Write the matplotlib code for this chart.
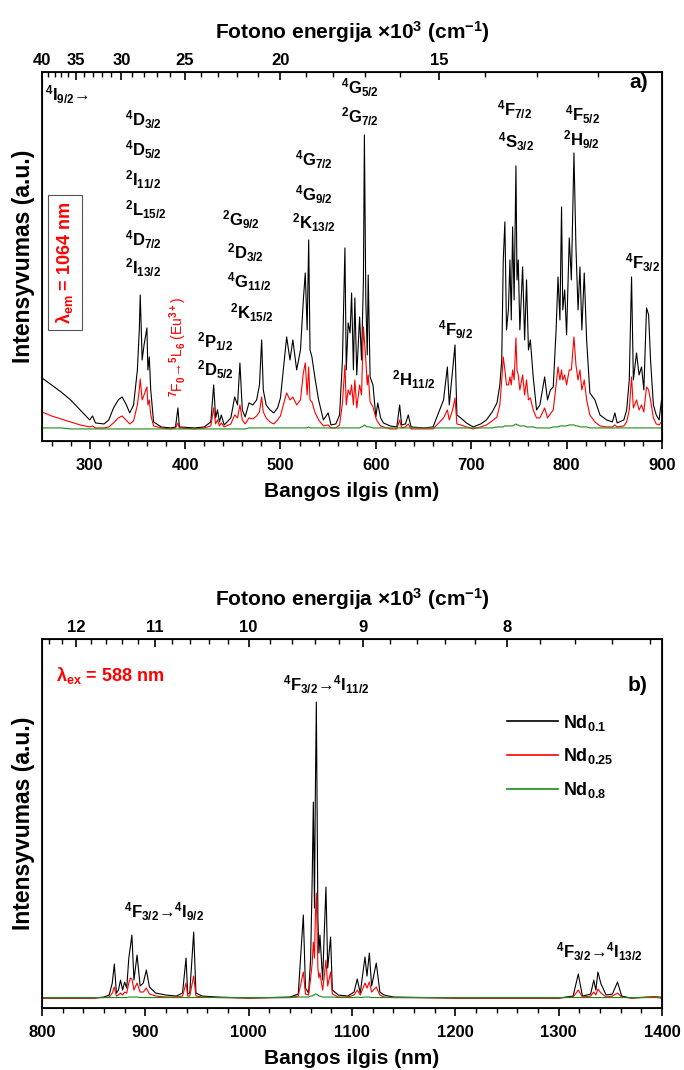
import matplotlib
matplotlib.use('Agg')
import matplotlib.pyplot as plt

plt.rcParams['font.family'] = ['Liberation Sans', 'DejaVu Sans']
plt.rcParams['font.weight'] = 'bold'
plt.rcParams['axes.labelweight'] = 'bold'
plt.rcParams['mathtext.fontset'] = 'custom'
plt.rcParams['mathtext.rm'] = 'Liberation Sans:bold'
plt.rcParams['mathtext.it'] = 'Liberation Sans:italic:bold'
plt.rcParams['mathtext.bf'] = 'Liberation Sans:bold'

# excitation spectra (lambda_em = 1064 nm)
exc_wl = [250, 260, 270, 280, 290, 300, 303, 306, 315, 320, 325, 330, 334, 338, 342, 346,
          350, 352, 353, 355, 357, 360, 361, 362.5, 364, 367, 375, 385, 390, 392.5, 394,
          410, 420, 427, 430, 432, 434, 436, 438, 441, 448, 452, 455, 457.5, 460, 463,
          467, 471, 475, 478, 480.3, 482, 485, 489, 493, 497, 500, 503, 506.5, 510, 513,
          517, 521, 524, 526, 528, 529.6, 531, 533, 536, 540, 545, 550, 553, 558, 562, 565,
          567.6, 569, 571, 573, 574.6, 576.5, 578, 580, 583, 585, 587, 588, 589.5, 591,
          592, 594, 597, 600, 602, 605, 608, 615, 622, 625, 627, 631, 634, 637, 650, 660,
          667, 671, 675, 677, 680.5, 683, 685, 689, 695, 702, 710, 716, 722, 727, 730,
          732, 733.6, 735.3, 737, 739, 740.6, 742, 743.4, 745, 746.9, 748, 749.3, 751,
          753.9, 756, 758, 760, 762, 765, 768.5, 772, 777, 780, 783, 786, 789, 791, 793,
          794.7, 796, 798, 800, 802.8, 805, 807.7, 809.8, 812, 814, 816, 818.5, 821,
          824.4, 829.7, 835, 842, 848, 850.6, 853, 860, 863, 865.7, 868.1, 870, 873.3,
          876, 878.6, 881, 883.8, 886, 888, 891, 894, 897, 899.5, 900]
exc_nd01 = [52, 45, 38, 30, 20, 10, 14, 7, 6, 10, 22, 30, 33, 26, 17, 25,
            60, 100, 135, 70, 85, 102, 60, 73, 40, 8, 3, 2, 3, 22, 3,
            2, 3, 8, 45, 12, 20, 8, 15, 5, 12, 33, 25, 67, 20, 13,
            27, 25, 30, 45, 90, 40, 25, 20, 17, 22, 32, 60, 93, 70, 90,
            60, 80, 130, 157, 100, 190, 80, 73, 53, 30, 10, 17, 5, 6, 15, 70,
            182, 60, 107, 97, 137, 60, 132, 55, 113, 70, 150, 295, 130, 75,
            155, 53, 45, 13, 27, 12, 7, 4, 3, 25, 5, 6, 15, 3, 2, 3,
            20, 30, 63, 25, 60, 85, 15, 12, 7, 3, 6, 10, 18, 27, 45,
            70, 170, 208, 100, 120, 170, 110, 203, 130, 264, 150, 170, 100,
            163, 90, 150, 80, 90, 53, 20, 25, 53, 30, 40, 43, 100, 153, 110,
            223, 120, 140, 95, 192, 150, 277, 183, 120, 163, 100, 157, 90,
            37, 30, 15, 10, 8, 17, 7, 10, 20, 50, 153, 50, 77,
            55, 63, 40, 122, 115, 70, 25, 15, 10, 30, 30]
exc_nd025 = [18, 14, 11, 8, 5, 3, 4, 2, 2, 3, 7, 12, 14, 10, 6, 9,
             25, 40, 51, 30, 35, 43, 25, 30, 15, 4, 2, 1, 2, 7, 2,
             1, 2, 4, 22, 6, 10, 4, 7, 3, 6, 15, 12, 25, 10, 6,
             12, 11, 14, 18, 33, 18, 12, 8, 6, 10, 14, 25, 37, 30, 33,
             25, 30, 57, 67, 35, 63, 30, 28, 18, 10, 4, 5, 2, 2, 5, 27,
             65, 25, 40, 35, 45, 25, 50, 22, 45, 35, 103, 90, 70, 45,
             55, 28, 23, 12, 8, 4, 3, 1, 1, 10, 2, 3, 6, 1, 1, 1,
             8, 12, 20, 10, 20, 32, 6, 5, 3, 1, 3, 5, 9, 13, 25,
             50, 73, 60, 45, 45, 53, 45, 60, 50, 92, 60, 55, 40,
             55, 35, 50, 30, 32, 20, 12, 12, 22, 12, 16, 20, 45, 63, 50,
             60, 50, 55, 45, 60, 60, 93, 65, 50, 60, 40, 50, 30,
             15, 8, 4, 3, 3, 5, 3, 4, 8, 20, 53, 22, 30,
             20, 25, 18, 43, 40, 30, 12, 6, 5, 8, 8]
exc_nd08 = [2, 2, 2, 1, 1, 1, 1, 1, 1, 1, 1, 1, 1, 1, 1, 1,
            1, 1, 1, 1, 1, 1, 1, 1, 1, 1, 1, 1, 1, 1, 1,
            1, 1, 1, 1, 1, 1, 1, 1, 1, 1, 1, 1, 1, 1, 1,
            2, 2, 2, 2, 2, 2, 2, 2, 2, 2, 2, 2, 2, 2, 2,
            2, 2, 2, 2, 2, 3, 2, 2, 2, 2, 2, 2, 2, 2, 2, 2,
            2, 2, 2, 2, 2, 2, 2, 2, 2, 3, 4, 5, 4, 3,
            3, 3, 2, 2, 2, 2, 2, 2, 2, 2, 2, 2, 2, 2, 2, 2,
            2, 2, 2, 2, 2, 2, 2, 2, 2, 2, 2, 2, 2, 3, 3,
            3, 3, 4, 4, 4, 4, 4, 4, 5, 6, 5, 5, 4,
            4, 4, 3, 3, 3, 3, 2, 2, 2, 2, 2, 3, 3, 3, 4,
            4, 4, 4, 4, 5, 5, 5, 4, 4, 3, 3, 3, 3,
            2, 2, 2, 2, 2, 2, 2, 2, 2, 2, 2, 2, 2,
            2, 2, 2, 2, 2, 2, 2, 2, 2, 2, 2]

# emission spectra (lambda_ex = 588 nm)
em_wl = [800, 850, 860, 865, 868, 870, 872, 874, 876, 878, 880, 882, 884, 885.5, 887,
         889, 892, 895, 898, 901, 904, 910, 920, 930, 936, 939.4, 941, 943, 946.8, 949,
         955, 970, 1000, 1040, 1048, 1052.9, 1055, 1058, 1060, 1061.5, 1062.6, 1063.7,
         1064.5, 1065.5, 1067, 1068, 1069, 1071.6, 1073, 1074.8, 1076.5, 1079.3, 1081,
         1086.8, 1096, 1102, 1105.1, 1108, 1112.6, 1114.5, 1116.8, 1119, 1123.5, 1127,
         1131, 1140, 1200, 1300, 1314, 1319, 1323, 1331, 1334, 1336, 1338, 1341, 1346,
         1352, 1357, 1361, 1370, 1392, 1400]
em_nd01 = [0, 0, 1, 3, 15, 34, 5, 8, 18, 8, 16, 10, 40, 51, 63,
           18, 43, 12, 15, 28, 11, 5, 3, 2, 5, 40, 4, 5, 66, 5,
           2, 1, 0, 1, 4, 83, 10, 5, 40, 120, 196, 90,
           200, 296, 80, 45, 63, 18, 60, 111, 30, 61, 8,
           3, 2, 6, 19, 5, 41, 22, 45, 12, 35, 6,
           3, 1, 0, 0, 2, 24, 2, 4, 18, 8, 26, 14, 3,
           4, 16, 2, 0, 1, 0]
em_nd025 = [0, 0, 0.5, 1, 5, 11, 2, 3, 5, 3, 6, 5, 15, 20, 19,
            8, 15, 6, 6, 10, 4, 2, 1, 1, 2, 15, 2, 2, 22, 2,
            1, 0.5, 0, 0.5, 2, 26, 4, 3, 20, 35, 56, 40,
            80, 105, 30, 20, 25, 8, 20, 38, 12, 26, 4,
            1, 1, 3, 8, 3, 15, 10, 16, 6, 11, 3,
            1, 0.5, 0, 0, 1, 8, 1, 2, 6, 3, 9, 5, 1,
            2, 5, 1, 0, 1.5, 1]
em_nd08 = [0.5, 0.5, 0.5, 0.5, 0.5, 0.5, 0.5, 0.5, 0.5, 0.5, 0.5, 0.5, 1, 1, 1,
           1, 1, 0.5, 0.5, 0.5, 0.5, 0.5, 0.5, 0.5, 0.5, 0.5, 0.5, 0.5, 0.5, 0.5,
           0.5, 0.5, 0.5, 0.5, 1, 1, 1, 1, 2, 2, 3, 3,
           4, 4, 3, 2, 2, 1, 1, 1, 1, 1, 1,
           0.5, 0.5, 0.5, 1, 0.5, 1, 1, 1, 0.5, 0.5, 0.5,
           0.5, 0.5, 0.5, 0.5, 0.5, 0.5, 0.5, 0.5, 0.5, 0.5, 0.5, 0.5, 0.5,
           0.5, 0.5, 0.5, 0.5, 0.5, 0.5]

labels = ['Nd$_{0.1}$', 'Nd$_{0.25}$', 'Nd$_{0.8}$']
colors = ['black', '#ff0000', '#1a8a1a']

exc_energy_major = [40, 35, 30, 25, 20, 15]
exc_energy_minor = list(range(12, 40))
em_energy_major = [12, 11, 10, 9, 8]
em_energy_minor = [7.2 + 0.2 * i for i in range(27)]

# level labels for panel a): (text, wavelength, height)
exc_levels = [
    (r'$^4$I$_{9/2}$→', 253, 335),
    (r'$^4$D$_{3/2}$', 337, 310), (r'$^4$D$_{5/2}$', 337, 280),
    (r'$^2$I$_{11/2}$', 337, 250), (r'$^2$L$_{15/2}$', 337, 220),
    (r'$^4$D$_{7/2}$', 337, 190), (r'$^2$I$_{13/2}$', 337, 162),
    (r'$^2$G$_{9/2}$', 439, 210), (r'$^2$D$_{3/2}$', 444, 177),
    (r'$^4$G$_{11/2}$', 444, 148), (r'$^2$K$_{15/2}$', 447, 117),
    (r'$^2$P$_{1/2}$', 413, 88), (r'$^2$D$_{5/2}$', 413, 60),
    (r'$^4$G$_{7/2}$', 515, 270), (r'$^4$G$_{9/2}$', 515, 235),
    (r'$^2$K$_{13/2}$', 512, 207),
    (r'$^4$G$_{5/2}$', 564, 342), (r'$^2$G$_{7/2}$', 564, 313),
    (r'$^4$F$_{7/2}$', 727, 320), (r'$^4$S$_{3/2}$', 728, 288),
    (r'$^4$F$_{5/2}$', 798, 315), (r'$^2$H$_{9/2}$', 796, 290),
    (r'$^4$F$_{3/2}$', 861, 167), (r'$^4$F$_{9/2}$', 665, 100),
    (r'$^2$H$_{11/2}$', 617, 50),
]
# transition labels for panel b): (text, wavelength, height)
em_levels = [
    (r'$^4$F$_{3/2}$→$^4$I$_{11/2}$', 1075, 313),
    (r'$^4$F$_{3/2}$→$^4$I$_{9/2}$', 918, 86),
    (r'$^4$F$_{3/2}$→$^4$I$_{13/2}$', 1339, 46),
]


def style_axes(ax, xlim, ylim, major, minor):
    ax.set_xlim(xlim)
    ax.set_ylim(ylim)
    ax.set_yticks([])
    ax.set_xticks(major)
    ax.set_xticks(minor, minor=True)
    ax.tick_params(axis='x', which='major', direction='out', length=6, width=1.2,
                   labelsize=12, pad=6)
    ax.tick_params(axis='x', which='minor', direction='out', length=3.5, width=1.0)
    for s in ax.spines.values():
        s.set_linewidth(1.3)
    ax.set_xlabel('Bangos ilgis (nm)', fontsize=15)
    ax.xaxis.set_label_coords(0.5, -0.112)
    ax.set_ylabel('Intensyvumas (a.u.)', fontsize=16.5)
    ax.yaxis.set_label_coords(-0.011, 0.5)


def add_energy_axis(ax, major, minor):
    lo, hi = ax.get_xlim()
    top = ax.twiny()
    top.set_xlim(lo, hi)
    top.set_xticks([1e4 / e for e in major])
    top.set_xticklabels([str(e) for e in major])
    top.set_xticks([1e4 / e for e in minor if lo <= 1e4 / e <= hi and e not in major],
                   minor=True)
    top.tick_params(axis='x', which='major', direction='in', length=6, width=1.2,
                    labelsize=12, pad=3)
    top.tick_params(axis='x', which='minor', direction='in', length=3.5, width=1.0)
    top.set_xlabel(r'Fotono energija $\times$10$^3$ (cm$^{-1}$)', fontsize=15)
    top.xaxis.set_label_coords(0.5, 1.09)
    return top


fig = plt.figure(figsize=(6.84, 10.70), dpi=100)
ax1 = fig.add_axes([0.0614, 0.5879, 0.9064, 0.3449])
ax2 = fig.add_axes([0.0614, 0.0579, 0.9064, 0.3449])

# panel a)
for y, c, lab in zip([exc_nd01, exc_nd025, exc_nd08], colors, labels):
    ax1.plot(exc_wl, y, color=c, lw=0.8, label=lab)
style_axes(ax1, (250, 900), (-11, 358), range(300, 901, 100), range(260, 900, 20))
add_energy_axis(ax1, exc_energy_major, exc_energy_minor)
for txt, x, y in exc_levels:
    ax1.text(x, y, txt, fontsize=12, ha='left', va='center')
ax1.text(392.6, 83, r'$^7$F$_0$→$^5$L$_6$ (Eu$^{3+}$)', color='#ff0000',
         fontsize=10, fontweight='normal', rotation=90, ha='center', va='center')
ax1.text(274, 167, r'λ$_{\mathrm{em}}$ = 1064 nm', color='#ff0000', fontsize=13,
         rotation=90, ha='center', va='center',
         bbox=dict(boxstyle='square,pad=0.35', fc='white', ec='#555555', lw=0.8))
ax1.text(0.977, 0.97, 'a)', transform=ax1.transAxes, fontsize=15, ha='right', va='center')

# panel b)
for y, c, lab in zip([em_nd01, em_nd025, em_nd08], colors, labels):
    ax2.plot(em_wl, y, color=c, lw=0.8, label=lab)
style_axes(ax2, (800, 1400), (-10, 359), range(800, 1401, 100), range(820, 1400, 20))
add_energy_axis(ax2, em_energy_major, em_energy_minor)
for txt, x, y in em_levels:
    ax2.text(x, y, txt, fontsize=12, ha='center', va='center')
ax2.text(0.023, 0.90, r'λ$_{\mathrm{ex}}$ = 588 nm', transform=ax2.transAxes,
         color='#ff0000', fontsize=13, ha='left', va='center')
ax2.text(0.977, 0.875, 'b)', transform=ax2.transAxes, fontsize=15, ha='right', va='center')
leg = ax2.legend(loc='upper left', bbox_to_anchor=(0.75, 0.80), frameon=False,
                 fontsize=13, handlelength=2.8, handletextpad=0.3, labelspacing=0.75,
                 borderaxespad=0, borderpad=0)
for line in leg.get_lines():
    line.set_linewidth(1.2)

fig.savefig('out.png', dpi=100)
plt.close(fig)
